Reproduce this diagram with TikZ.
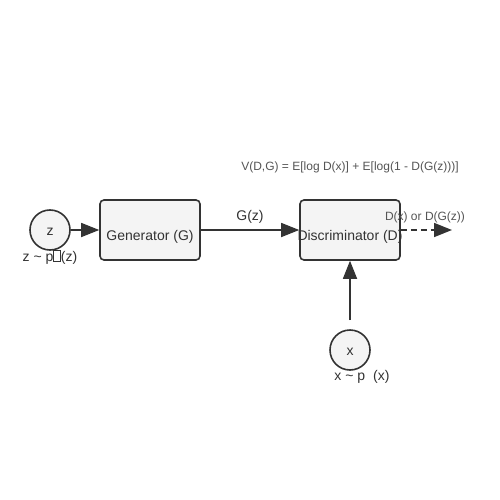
\documentclass[tikz,border=0pt]{standalone}
\usepackage{fontspec}
\setmainfont{Liberation Sans}
\usetikzlibrary{arrows.meta}
\definecolor{ink}{HTML}{333333}
\definecolor{boxfill}{HTML}{F4F4F4}
\definecolor{eqgray}{HTML}{555555}
\tikzset{
  x=1pt,y=-1pt,
  blk/.style={draw=ink,line width=1.6pt,fill=boxfill,rounded corners=4pt,minimum width=100pt,minimum height=60pt,inner sep=0pt,text=ink,font=\fontsize{14}{16}\selectfont},
  var/.style={draw=ink,line width=1.6pt,fill=boxfill,circle,minimum size=40pt,inner sep=0pt,text=ink,font=\fontsize{14}{16}\selectfont},
  lbl/.style={text=ink,font=\fontsize{14}{16}\selectfont,inner sep=0pt},
  small/.style={text=eqgray,font=\fontsize{12}{14}\selectfont,inner sep=0pt},
  flow/.style={draw=ink,line width=1.6pt,-{Triangle[length=18pt,width=14pt]}},
}
\begin{document}
\begin{tikzpicture}
\useasboundingbox (0,0) rectangle (500,500);
\fill[white] (0,0) rectangle (500,500);
\node[var] (z) at (50,230) {};
\node[blk] (G) at (150,230) {};
\node[blk] (D) at (350,230) {};
\node[var] (x) at (350,350) {};
\coordinate (xs) at (350,320);
\coordinate (out) at (452,230);
\draw[flow] (z.east) -- (G.west);
\draw[flow] (G.east) -- (D.west);
\draw[flow] (xs) -- (D.south);
\node[lbl] (zt) at (50,232) {z};
\node[lbl] (xt) at (350,352) {x};
\node[lbl] (Gt) at (150,237) {Generator (G)};
\node[lbl] (Dt) at (350,237) {Discriminator (D)};
\draw[flow,dashed,dash pattern=on 6pt off 4pt] (D.east) -- (out);
\node[lbl] (zl) at (50,257) {z \char"007E{} p\tikz[baseline=0pt]\draw[ink,line width=0.5pt] (0,0) rectangle (7,-11);(z)};
\node[lbl] (xl) at (362,377) {x \char"007E{} p\hspace{8pt}(x)};
\node[lbl] (Gz) at (250,217) {G(z)};
\node[small] (eq) at (350,167.5) {V(D,G) = E[log D(x)] + E[log(1 - D(G(z)))]};
\node[small] (dl) at (425,217.5) {D(x) or D(G(z))};
\end{tikzpicture}
\end{document}
